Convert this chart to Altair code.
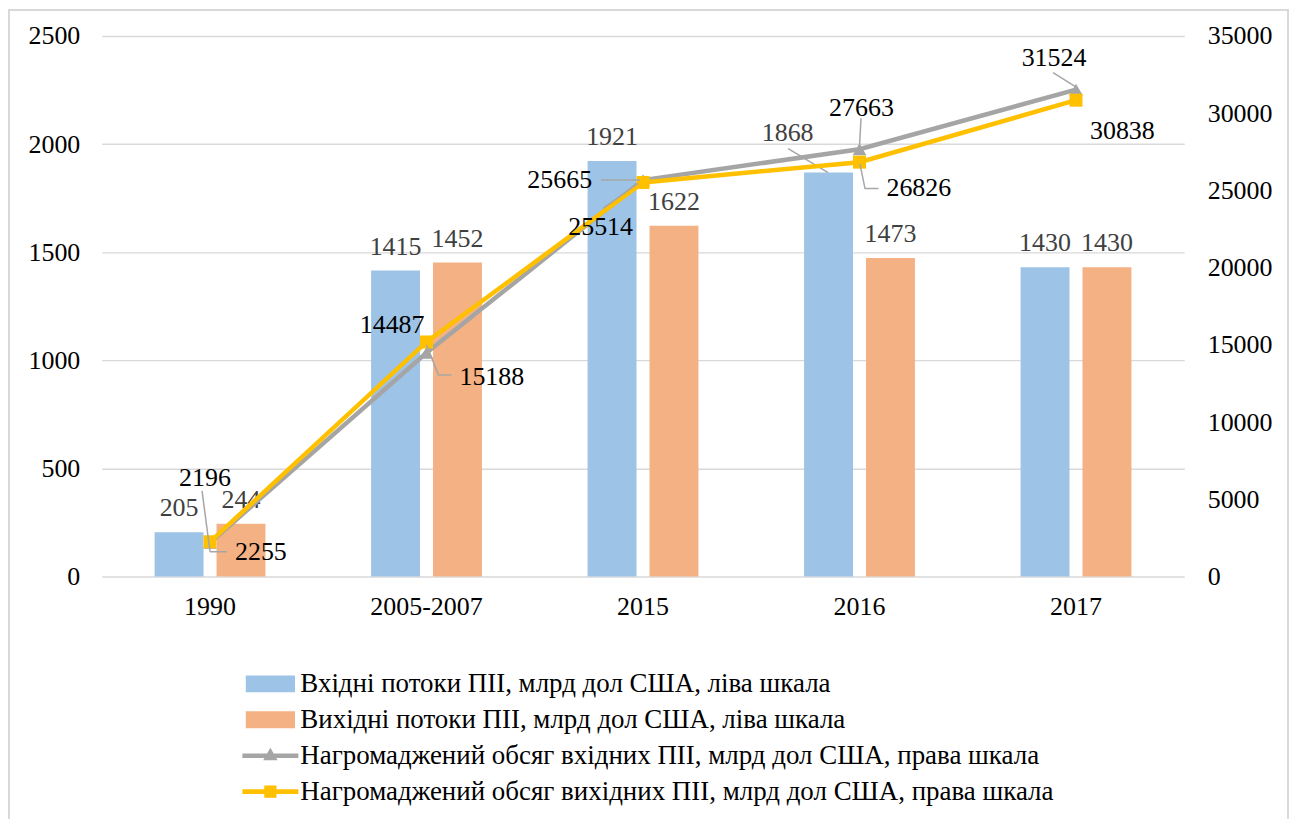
import altair as alt
import pandas as pd

categories = ["1990", "2005-2007", "2015", "2016", "2017"]
inflows = [205, 1415, 1921, 1868, 1430]
outflows = [244, 1452, 1622, 1473, 1430]
in_stock = [2196, 14487, 25665, 27663, 31524]
out_stock = [2255, 15188, 25514, 26826, 30838]

s1 = "Вхідні потоки ПІІ, млрд дол США, ліва шкала"
s2 = "Вихідні потоки ПІІ, млрд дол США, ліва шкала"
s3 = "Нагромаджений обсяг вхідних ПІІ, млрд дол США, права шкала"
s4 = "Нагромаджений обсяг вихідних ПІІ, млрд дол США, права шкала"
series = [s1, s2, s3, s4]
colors = ["#9DC3E6", "#F4B183", "#A5A5A5", "#FFC000"]

# ---- label placement (layout only, pixels relative to the data point) ----
in_bar_dx = [0, 0, 0, -41, 0]
in_bar_dy = [-24, -24, -24, -40, -24]
out_bar_dx = [0, 0, 0, 0, 0]
out_bar_dy = [-24, -24, -24, -24, -24]
in_lab_align = ["center", "right", "right", "center", "center"]
in_lab_dx = [-5, -2, -51, 2, -22]
in_lab_dy = [-65, -28, 0, -41, -32]
out_lab_align = ["left", "left", "right", "left", "left"]
out_lab_dx = [25, 33, -10, 27, 14]
out_lab_dy = [10, 35, 45, 26, 31]
# leader lines: (category index, anchored series, pixel offsets of the vertices)
leaders = [
    (0, "in", [(-8, -52), (0, 9)]),
    (0, "out", [(0, 10), (17, 10)]),
    (1, "out", [(0, 3), (12, 33), (25, 33)]),
    (2, "in", [(-42, 0), (-3, 0)]),
    (2, "out", [(-40, 26), (-5, 1)]),
    (3, "in", [(1.5, -31), (0, -3)]),
    (3, "out", [(0.5, 2), (5.5, 26.5), (19, 26.5)]),
    (4, "in", [(-23, -17), (1, -2)]),
    (3, "bar_in", [(-71.5, -24), (-31.5, 0)]),
]

FONT = "Liberation Serif, Times New Roman, serif"
FS = 26

bars_df = pd.DataFrame({
    "category": categories * 2,
    "series": [s1] * 5 + [s2] * 5,
    "value": inflows + outflows,
    "dx": in_bar_dx + out_bar_dx,
    "dy": in_bar_dy + out_bar_dy,
})
lines_df = pd.DataFrame({
    "category": categories * 2,
    "series": [s3] * 5 + [s4] * 5,
    "value": in_stock + out_stock,
    "dx": in_lab_dx + out_lab_dx,
    "dy": in_lab_dy + out_lab_dy,
    "align": in_lab_align + out_lab_align,
})
src = {"in": in_stock, "out": out_stock, "bar_in": inflows}
rows = []
for k, (ci, key, pts) in enumerate(leaders):
    for j, (ox, oy) in enumerate(pts):
        rows.append({"seg": k, "ord": j, "category": categories[ci], "value": src[key][ci],
                     "ox": ox, "oy": oy, "axis": "L" if key == "bar_in" else "R"})
lead_df = pd.DataFrame(rows)

x_scale = alt.Scale(domain=categories, paddingInner=0.488, paddingOuter=0.244)
xoff_scale = alt.Scale(domain=[s1, s2], paddingInner=0.21, paddingOuter=0)
color_scale = alt.Scale(domain=series, range=colors)
yL = alt.Scale(domain=[0, 2500], nice=False, zero=True)
yR = alt.Scale(domain=[0, 35000], nice=False, zero=True)

x_enc = alt.X("category:N", scale=x_scale, sort=categories, title=None,
              axis=alt.Axis(labelAngle=0, labelPadding=17, ticks=False,
                            domain=False, grid=False))
x_plain = alt.X("category:N", scale=x_scale, sort=categories, title=None)
xoff = alt.XOffset("series:N", scale=xoff_scale, sort=[s1, s2])
color_enc = alt.Color("series:N", scale=color_scale)

frame = alt.Chart(pd.DataFrame({"a": [0]})).mark_rect(
    fill=None, stroke="#D9D9D9", strokeWidth=2).encode(
    x=alt.value(-93), x2=alt.value(1085 + 104), y=alt.value(-26), y2=alt.value(800))

bars = alt.Chart(bars_df).mark_bar().encode(
    x=x_enc,
    xOffset=xoff,
    y=alt.Y("value:Q", scale=yL, title=None,
            axis=alt.Axis(orient="left", values=[0, 500, 1000, 1500, 2000, 2500], format="d",
                          labelPadding=22, ticks=False, domain=False, grid=True,
                          gridColor="#D9D9D9", gridWidth=1.5)),
    color=color_enc,
)
bar_text = alt.Chart(bars_df).mark_text(
    font=FONT, fontSize=FS, color="#404040", baseline="middle", align="center",
    dx=alt.ExprRef(expr="datum.dx"), dy=alt.ExprRef(expr="datum.dy"),
).encode(
    x=x_plain, xOffset=xoff,
    y=alt.Y("value:Q", scale=yL, axis=None),
    text=alt.Text("value:Q", format="d"),
)
bar_lead = alt.Chart(lead_df).transform_filter(alt.datum.axis == "L").mark_line(
    color="#A6A6A6", strokeWidth=1.5,
    xOffset=alt.ExprRef(expr="datum.ox"), yOffset=alt.ExprRef(expr="datum.oy"),
).encode(x=x_plain, y=alt.Y("value:Q", scale=yL, axis=None),
         detail="seg:N", order="ord:Q")

yR_axis = alt.Y("value:Q", scale=yR, title=None,
                axis=alt.Axis(orient="right", values=[0, 5000, 10000, 15000, 20000, 25000, 30000, 35000],
                              format="d", labelPadding=23, ticks=False, domain=False, grid=False))
yR_plain = alt.Y("value:Q", scale=yR, axis=None)

grey = lines_df[lines_df.series == s3]
yellow = lines_df[lines_df.series == s4]

grey_line = alt.Chart(grey).mark_line(strokeWidth=4.5).encode(
    x=x_plain, y=yR_axis, color=color_enc)
grey_pts = alt.Chart(grey).mark_point(shape="triangle-up", filled=True, size=190, opacity=1).encode(
    x=x_plain, y=yR_plain, color=color_enc)
yel_line = alt.Chart(yellow).mark_line(strokeWidth=4.5).encode(
    x=x_plain, y=yR_plain, color=color_enc)
yel_pts = alt.Chart(yellow).mark_point(shape="square", filled=True, size=170, opacity=1).encode(
    x=x_plain, y=yR_plain, color=color_enc)
line_lead = alt.Chart(lead_df).transform_filter(alt.datum.axis == "R").mark_line(
    color="#A6A6A6", strokeWidth=1.5,
    xOffset=alt.ExprRef(expr="datum.ox"), yOffset=alt.ExprRef(expr="datum.oy"),
).encode(x=x_plain, y=yR_plain, detail="seg:N", order="ord:Q")


def line_labels(al):
    return alt.Chart(lines_df).transform_filter(
        alt.datum.align == al
    ).mark_text(
        font=FONT, fontSize=FS, color="#000000", baseline="middle", align=al,
        dx=alt.ExprRef(expr="datum.dx"), dy=alt.ExprRef(expr="datum.dy"),
    ).encode(x=x_plain, y=yR_plain, text=alt.Text("value:Q", format="d"))


bar_sym = "M-2.9,-1H2.9V1H-2.9Z"
tri_sym = "M-3.3,-0.27H3.3V0.27H-3.3ZM0,-0.95L0.85,0.55L-0.85,0.55Z"
sq_sym = "M-3.3,-0.27H3.3V0.27H-3.3ZM-0.72,-0.72H0.72V0.72H-0.72Z"
legend_def = alt.Legend(
    title=None, orient="none", legendX=130.5, legendY=636, direction="vertical",
    symbolSize=289, symbolStrokeWidth=0, symbolOffset=25, labelOffset=16.5,
    rowPadding=8, symbolOpacity=1,
)
legend_layer = alt.Chart(lines_df).mark_point(filled=True, opacity=0).encode(
    x=x_plain, y=yR_plain,
    color=alt.Color("series:N", scale=color_scale, legend=legend_def),
    shape=alt.Shape("series:N", scale=alt.Scale(domain=series, range=[bar_sym, bar_sym, tri_sym, sq_sym]),
                    legend=legend_def),
)

chart = alt.layer(
    frame, bars, bar_text, bar_lead, grey_line, grey_pts, yel_line, yel_pts, line_lead,
    line_labels("left"), line_labels("right"), line_labels("center"), legend_layer,
).resolve_scale(y="independent").properties(
    width=1085, height=542,
    autosize=alt.AutoSizeParams(type="none"),
    padding={"left": 94, "top": 27, "right": 106, "bottom": 242},
).configure_view(
    stroke=None
).configure_axis(
    labelFont=FONT, labelFontSize=FS, labelColor="#000000"
).configure_legend(
    labelFont=FONT, labelFontSize=27, labelColor="#000000", labelLimit=2000
).configure_text(font=FONT)

chart.save("out.html", embed_options={"renderer": "svg", "actions": False})
